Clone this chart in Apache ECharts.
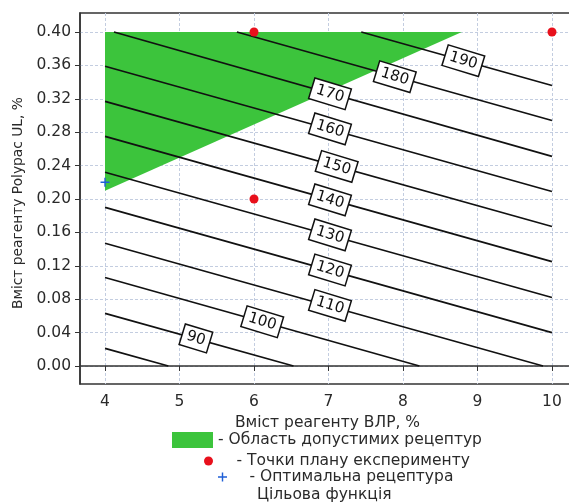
<!DOCTYPE html>
<html>
<head>
<meta charset="utf-8">
<script src="https://cdn.jsdelivr.net/npm/echarts@6/dist/echarts.min.js"></script>
<style>
  html, body { margin: 0; padding: 0; background: #ffffff; }
  #chart { width: 569px; height: 504px; }
</style>
</head>
<body>
<div id="chart"></div>
<script>
// Axis ticks
const xTicks = [4, 5, 6, 7, 8, 9, 10];
const yTicks = [0, 0.04, 0.08, 0.12, 0.16, 0.20, 0.24, 0.28, 0.32, 0.36, 0.40];

// Feasible region (polygon corners, ВЛР %, Polypac UL %)
const regionX = [4, 8.79, 4];
const regionY = [0.40, 0.40, 0.21];

// Experimental design points
const planX = [6, 10, 6];
const planY = [0.40, 0.40, 0.20];

// Optimal formulation
const optX = [4];
const optY = [0.22];

// Objective function contour lines: level, start and end points
const levels  = [80, 90, 100, 110, 120, 130, 140, 150, 160, 170, 180, 190];
const startX  = [4, 4, 4, 4, 4, 4, 4, 4, 4, 4.12, 5.77, 7.44];
const startY  = [0.021, 0.063, 0.106, 0.147, 0.190, 0.232, 0.275, 0.317, 0.359, 0.40, 0.40, 0.40];
const endX    = [4.85, 6.53, 8.22, 9.88, 10, 10, 10, 10, 10, 10, 10, 10];
const endY    = [0, 0, 0, 0, 0.040, 0.082, 0.125, 0.167, 0.209, 0.251, 0.294, 0.336];

// Inline label positions on the contours
const labelLevels = [90, 100, 110, 120, 130, 140, 150, 160, 170, 180, 190];
const labelX = [5.22, 6.11, 7.02, 7.02, 7.02, 7.02, 7.11, 7.02, 7.02, 7.89, 8.81];
const labelY = [0.033, 0.053, 0.0725, 0.115, 0.157, 0.199, 0.239, 0.284, 0.326, 0.3465, 0.3657];

const FONT = '"DejaVu Sans", Verdana, sans-serif';
const TEXT = '#2a2a2a';
const FS = 15.5;
const PLUS = 'path://M4.2,0H5.8V10H4.2ZM0,4.2H10V5.8H0Z';

const NAME_REGION = '- Область допустимих рецептур';
const NAME_PLAN = '- Точки плану експерименту';
const NAME_OPT = '- Оптимальна рецептура';
const NAME_OBJ = 'Цільова функція';

const chart = echarts.init(document.getElementById('chart'), null, { renderer: 'canvas' });

const legendText = { fontFamily: FONT, fontSize: FS, color: TEXT };

const option = {
  backgroundColor: '#ffffff',
  animation: false,
  grid: {
    left: 80, top: 13, right: -6, bottom: 120,
    outerBoundsMode: 'none',
    containLabel: false,
    show: true, borderColor: '#333', borderWidth: 1.5, backgroundColor: 'transparent'
  },
  xAxis: {
    type: 'value',
    min: 3.664, max: 10.309,
    name: 'Вміст реагенту ВЛР, %',
    nameLocation: 'middle',
    nameGap: 29,
    nameTextStyle: { fontFamily: FONT, fontSize: FS, color: TEXT },
    axisLine: { show: true, lineStyle: { color: '#333', width: 1.5 } },
    axisTick: { show: true, customValues: xTicks, length: 5, lineStyle: { color: '#333' } },
    axisLabel: { customValues: xTicks, margin: 10, fontFamily: FONT, fontSize: FS, color: TEXT },
    splitLine: { show: true, lineStyle: { color: '#c3cde0', width: 1, type: [3, 2] } }
  },
  yAxis: {
    type: 'value',
    min: -0.0216, max: 0.4228,
    name: 'Вміст реагенту Polypac UL, %',
    nameLocation: 'middle',
    nameGap: 55,
    nameTextStyle: { fontFamily: FONT, fontSize: 13.8, color: TEXT, padding: [0, 9, 0, 0] },
    axisLine: { show: true, lineStyle: { color: '#333', width: 1.5 } },
    axisTick: { show: true, customValues: yTicks, length: 5, lineStyle: { color: '#333' } },
    axisLabel: {
      customValues: yTicks, margin: 9, fontFamily: FONT, fontSize: FS, color: TEXT,
      formatter: v => v.toFixed(2)
    },
    splitLine: { show: true, lineStyle: { color: '#c3cde0', width: 1, type: [3, 2] } }
  },
  legend: [
    {
      data: [{ name: NAME_REGION, icon: 'rect' }],
      left: 172, top: 432, itemWidth: 41, itemHeight: 16, padding: 0,
      selectedMode: false, textStyle: legendText
    },
    {
      data: [{ name: NAME_PLAN, icon: 'circle' }],
      left: 204, top: 453, itemWidth: 46, itemHeight: 9, padding: 0,
      selectedMode: false, textStyle: legendText
    },
    {
      data: [{ name: NAME_OPT, icon: PLUS }],
      left: 218, top: 469, itemWidth: 44, itemHeight: 9, padding: 0,
      selectedMode: false, textStyle: legendText
    },
    {
      data: [{ name: NAME_OBJ, icon: 'rect', itemStyle: { color: 'rgba(0,0,0,0)', borderWidth: 0 } }],
      left: 242, top: 487, itemWidth: 10, itemHeight: 9, padding: 0,
      selectedMode: false, textStyle: legendText
    }
  ],
  series: [
    {
      name: NAME_REGION,
      type: 'custom',
      coordinateSystem: 'cartesian2d',
      z: 1,
      itemStyle: { color: '#3cc43c' },
      data: [[0]],
      renderItem: (params, api) => {
        const pts = regionX.map((x, i) => api.coord([x, regionY[i]]));
        return {
          type: 'polygon',
          shape: { points: pts },
          style: { fill: '#3cc43c' }
        };
      }
    },
    {
      name: NAME_OBJ,
      type: 'lines',
      coordinateSystem: 'cartesian2d',
      z: 3,
      lineStyle: { color: '#111', width: 1.7, opacity: 1 },
      itemStyle: { color: '#111' },
      data: levels.map((lv, i) => ({
        name: String(lv),
        coords: [[startX[i], startY[i]], [endX[i], endY[i]]]
      }))
    },
    {
      name: 'contour-labels',
      type: 'scatter',
      z: 4,
      symbolSize: 1,
      itemStyle: { color: 'rgba(0,0,0,0)', opacity: 1 },
      label: {
        show: true,
        position: 'inside',
        rotate: -17,
        opacity: 1,
        formatter: p => String(p.value[2]),
        fontFamily: FONT, fontSize: 15, color: '#111',
        backgroundColor: '#ffffff',
        borderColor: '#111', borderWidth: 1.5,
        padding: [3, 4, 2, 4]
      },
      data: labelLevels.map((lv, i) => [labelX[i], labelY[i], lv])
    },
    {
      name: NAME_PLAN,
      type: 'scatter',
      z: 5,
      symbol: 'circle',
      symbolSize: 9,
      itemStyle: { color: '#e8101c', opacity: 1 },
      data: planX.map((x, i) => [x, planY[i]])
    },
    {
      name: NAME_OPT,
      type: 'scatter',
      z: 5,
      symbol: PLUS,
      symbolSize: 9,
      itemStyle: { color: '#1f5fd6', opacity: 1 },
      data: optX.map((x, i) => [x, optY[i]])
    }
  ]
};

chart.setOption(option);
</script>
</body>
</html>
